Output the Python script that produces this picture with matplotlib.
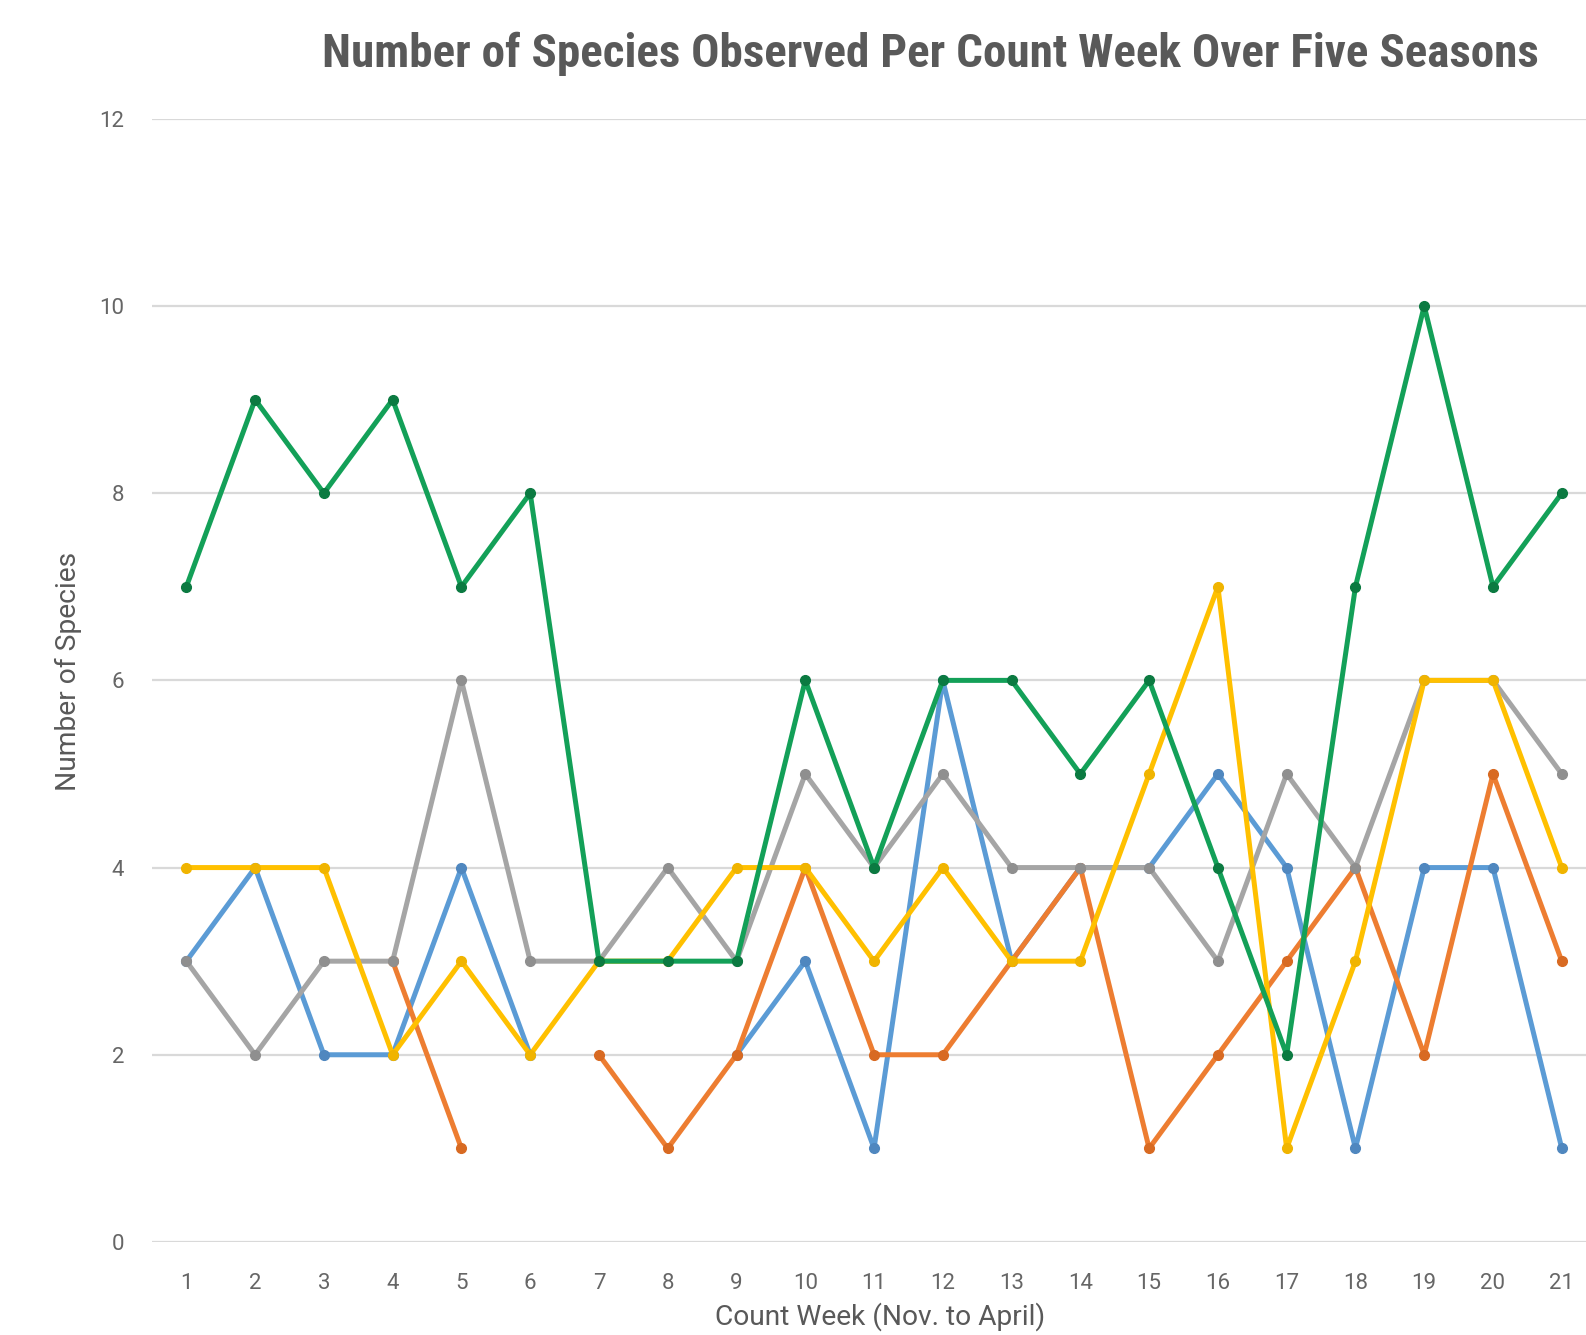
import numpy as np
import matplotlib
matplotlib.use("Agg")
import matplotlib.pyplot as plt
from matplotlib import font_manager

nan = np.nan

weeks = list(range(1, 22))
week_labels = [str(w) for w in weeks]

season_blue = [3, 4, 2, 2, 4, 2, nan, nan, 2, 3, 1, 6, 3, 4, 4, 5, 4, 1, 4, 4, 1]
season_orange = [nan, nan, nan, 3, 1, nan, 2, 1, 2, 4, 2, 2, 3, 4, 1, 2, 3, 4, 2, 5, 3]
season_gray = [3, 2, 3, 3, 6, 3, 3, 4, 3, 5, 4, 5, 4, 4, 4, 3, 5, 4, 6, 6, 5]
season_yellow = [4, 4, 4, 2, 3, 2, 3, 3, 4, 4, 3, 4, 3, 3, 5, 7, 1, 3, 6, 6, 4]
season_green = [7, 9, 8, 9, 7, 8, 3, 3, 3, 6, 4, 6, 6, 5, 6, 4, 2, 7, 10, 7, 8]

y_ticks = [0, 2, 4, 6, 8, 10, 12]

title = "Number of Species Observed Per Count Week Over Five Seasons"
x_title = "Count Week (Nov. to April)"
y_title = "Number of Species"

available = {f.name for f in font_manager.fontManager.ttflist}
title_family = next((f for f in ["Liberation Sans Narrow", "Roboto Condensed", "Lato"]
                     if f in available), "DejaVu Sans")
body_family = next((f for f in ["Roboto", "Lato", "Open Sans"] if f in available),
                   "DejaVu Sans")
plt.rcParams["font.family"] = [body_family, "DejaVu Sans"]

text_color = "#595959"
grid_color = "#D9D9D9"

fig = plt.figure(figsize=(15.86, 13.35), dpi=100)
ax = fig.add_axes([0.0958, 0.0697, 0.9106, 0.8413])

series = [
    (season_blue, "#5B9BD5", "#4F87BF"),
    (season_orange, "#ED7D31", "#D86A22"),
    (season_gray, "#A5A5A5", "#8F8F8F"),
    (season_yellow, "#FFC000", "#F0B400"),
    (season_green, "#13A058", "#0B7A41"),
]
for i, (vals, col, mcol) in enumerate(series):
    ax.plot(weeks, vals, color=col, lw=3.6, marker="o", ms=7,
            markerfacecolor=mcol, markeredgecolor=mcol,
            zorder=3 + i, clip_on=False)

ax.set_xlim(0.5, 21.5)
ax.set_ylim(0, 12)
ax.set_yticks(y_ticks)
ax.set_xticks(weeks)
ax.set_xticklabels(week_labels)
ax.grid(axis="y", color=grid_color, lw=1.6)
ax.set_axisbelow(True)
for s in ax.spines.values():
    s.set_visible(False)
ax.tick_params(axis="both", length=0, colors="#666666", labelsize=16)
ax.tick_params(axis="y", pad=20)
ax.tick_params(axis="x", pad=22)

title_txt = fig.text(0.5866, 0.9596, title, ha="center", va="center", fontsize=30,
                     fontweight="bold", color=text_color, family=[title_family, "DejaVu Sans"])
y_txt = fig.text(0.0430, 0.497, y_title, rotation=90, ha="center", va="center",
                 fontsize=18, color=text_color)
x_txt = fig.text(0.555, 0.003, x_title, ha="center", va="bottom", fontsize=18,
                 color=text_color)

# scale each title so it spans its intended length in pixels
renderer = fig.canvas.get_renderer()
for txt, target, vertical in [(title_txt, 1218, False), (y_txt, 240, True), (x_txt, 330, False)]:
    ext = txt.get_window_extent(renderer)
    size = ext.height if vertical else ext.width
    txt.set_fontsize(txt.get_fontsize() * target / size)

fig.savefig("out.png", dpi=100, facecolor="white")
